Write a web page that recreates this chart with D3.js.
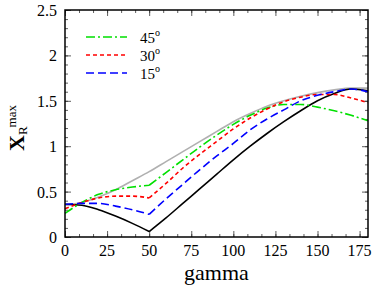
<!DOCTYPE html>
<html>
<meta charset="utf-8">
<style>
  body { margin: 0; background: #fff; }
</style>
<body>
<script src="https://d3js.org/d3.v7.min.js"></script>
<script>
// gamma grid (deg) and the curves
var gamma = [0, 10, 20, 30, 40, 50, 60, 70, 80, 90, 100, 110, 120, 130, 140, 150, 160, 170, 180];
var upper = [0.35, 0.38, 0.44, 0.52, 0.62, 0.72, 0.83, 0.94, 1.05, 1.16, 1.27, 1.36, 1.44, 1.50, 1.55, 1.59, 1.62, 1.64, 1.64];
var lower = [0.36, 0.35, 0.30, 0.23, 0.15, 0.06, 0.21, 0.37, 0.53, 0.69, 0.85, 1.00, 1.14, 1.27, 1.39, 1.50, 1.58, 1.63, 1.61];
var deg45 = [0.26, 0.38, 0.47, 0.52, 0.55, 0.57, 0.71, 0.85, 0.99, 1.12, 1.24, 1.34, 1.42, 1.46, 1.46, 1.43, 1.39, 1.34, 1.28];
var deg30 = [0.31, 0.38, 0.43, 0.45, 0.45, 0.43, 0.59, 0.76, 0.91, 1.05, 1.19, 1.31, 1.41, 1.49, 1.54, 1.57, 1.57, 1.53, 1.48];
var deg15 = [0.36, 0.37, 0.37, 0.34, 0.30, 0.25, 0.42, 0.58, 0.74, 0.89, 1.03, 1.18, 1.30, 1.40, 1.50, 1.56, 1.60, 1.63, 1.60];
var xTicks = [0, 25, 50, 75, 100, 125, 150, 175];
var yTicks = [0, 0.5, 1, 1.5, 2, 2.5];
var legendLabels = ["45", "30", "15"];

var W = 382, H = 286;
var margin = {top: 10, right: 14, bottom: 49, left: 65};
var width = W - margin.left - margin.right,
    height = H - margin.top - margin.bottom;

var svg = d3.select("body").append("svg")
    .attr("width", W).attr("height", H)
    .attr("font-family", "'Liberation Serif', 'DejaVu Serif', serif");
var g = svg.append("g").attr("transform", `translate(${margin.left},${margin.top})`);

var x = d3.scaleLinear().domain([0, 180]).range([0, width]);
var y = d3.scaleLinear().domain([0, 2.5]).range([height, 0]);

// ticks pointing inward on all four sides
var xMinor = d3.range(0, 180.01, 25 / 3);
var yMinor = d3.range(0, 2.501, 0.1);
function tickAxis(axis, scale, vals, size) {
  return axis(scale).tickValues(vals).tickSize(size).tickFormat("");
}
var axes = g.append("g").attr("class", "ticks");
axes.append("g").attr("transform", `translate(0,${height})`).call(tickAxis(d3.axisTop, x, xMinor, 3));
axes.append("g").attr("transform", `translate(0,${height})`).call(tickAxis(d3.axisTop, x, xTicks, 6));
axes.append("g").call(tickAxis(d3.axisBottom, x, xMinor, 3));
axes.append("g").call(tickAxis(d3.axisBottom, x, xTicks, 6));
axes.append("g").call(tickAxis(d3.axisRight, y, yMinor, 3));
axes.append("g").call(tickAxis(d3.axisRight, y, yTicks, 6));
axes.append("g").attr("transform", `translate(${width},0)`).call(tickAxis(d3.axisLeft, y, yMinor, 3));
axes.append("g").attr("transform", `translate(${width},0)`).call(tickAxis(d3.axisLeft, y, yTicks, 6));
axes.selectAll(".domain").remove();
axes.selectAll("line").attr("stroke", "#333").attr("stroke-width", 0.8);

// tick labels
g.append("g").selectAll("text").data(xTicks).join("text")
    .attr("x", d => x(d)).attr("y", height + 19)
    .attr("text-anchor", "middle").attr("font-size", 16)
    .text(d => d);
g.append("g").selectAll("text").data(yTicks).join("text")
    .attr("x", -8).attr("y", d => y(d) + 6)
    .attr("text-anchor", "end").attr("font-size", 16)
    .text(d => d);

// curves; the angled ones have a kink at gamma = 50
var line = d3.line().x(d => x(d[0])).y(d => y(d[1])).curve(d3.curveMonotoneX);
function kinked(vals) {
  var pts = gamma.map((gm, i) => [gm, vals[i]]);
  return line(pts.filter(p => p[0] <= 50)) + line(pts.filter(p => p[0] >= 50));
}
var series = [
  {v: upper, color: "#b0b0b0", dash: null, kink: false},
  {v: lower, color: "#000", dash: null, kink: true},
  {v: deg45, color: "#00e000", dash: "9,3,2,3", kink: true},
  {v: deg30, color: "#ff0000", dash: "4,3", kink: true},
  {v: deg15, color: "#0000ff", dash: "8,4", kink: true}
];
var plot = g.append("g");
plot.selectAll("path").data(series).join("path")
    .attr("fill", "none")
    .attr("stroke", d => d.color)
    .attr("stroke-width", 1.6)
    .attr("stroke-dasharray", d => d.dash)
    .attr("d", d => d.kink ? kinked(d.v) : line(gamma.map((gm, i) => [gm, d.v[i]])));

// frame
g.append("rect").attr("width", width).attr("height", height)
    .attr("fill", "none").attr("stroke", "#000").attr("stroke-width", 1.5);

// legend
var leg = g.append("g").attr("transform", "translate(21,27)");
legendLabels.forEach((lab, i) => {
  var s = series[i + 2];
  var row = leg.append("g").attr("transform", `translate(0,${i * 18})`);
  row.append("line").attr("x1", 0).attr("x2", 41)
      .attr("stroke", s.color).attr("stroke-width", 1.6).attr("stroke-dasharray", s.dash);
  var t = row.append("text").attr("x", 54).attr("y", 6).attr("font-size", 15);
  t.append("tspan").text(lab);
  t.append("tspan").attr("font-size", 10).attr("dy", -7).text("o");
});

// axis titles
svg.append("text")
    .attr("x", margin.left + width / 2).attr("y", 280)
    .attr("text-anchor", "middle").attr("font-size", 22)
    .text("gamma");
var yl = svg.append("text")
    .attr("transform", "translate(24,151) rotate(-90)")
    .attr("font-size", 22);
yl.append("tspan").attr("font-weight", "bold").text("X");
yl.append("tspan").attr("font-size", 13).attr("dy", 3).text("R");
yl.append("tspan").attr("font-size", 13).attr("dx", -1).attr("dy", -11).text("max");
</script>
</body>
</html>
